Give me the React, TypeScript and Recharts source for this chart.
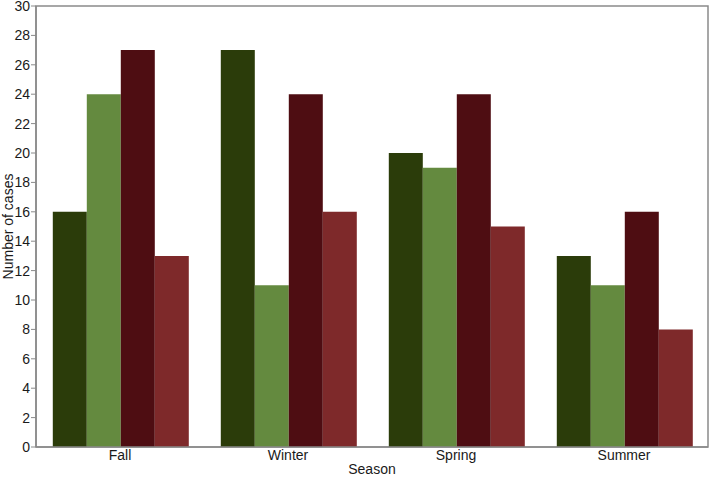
import React from "react";
import { BarChart, Bar, XAxis, YAxis, Label, ReferenceArea } from "recharts";

const seasons = ["Fall", "Winter", "Spring", "Summer"];
const seriesA = [16, 27, 20, 13];
const seriesB = [24, 11, 19, 11];
const seriesC = [27, 24, 24, 16];
const seriesD = [13, 16, 15, 8];
const yTicks = [0, 2, 4, 6, 8, 10, 12, 14, 16, 18, 20, 22, 24, 26, 28, 30];

const COLORS = ["#2b3c0a", "#648a3f", "#4e0d12", "#7e292a"];
const FONT = "'Liberation Sans', Arial, Helvetica, sans-serif";

const data = seasons.map((season, i) => ({
  season,
  a: seriesA[i],
  b: seriesB[i],
  c: seriesC[i],
  d: seriesD[i],
}));

export default function App() {
  return (
    <div style={{ position: "fixed", left: 0, top: 0, width: 709, height: 477, background: "#fff", fontFamily: FONT }}>
      <BarChart
        width={709}
        height={477}
        data={data}
        margin={{ top: 6, right: 1, left: 0, bottom: 0 }}
        barGap={0}
        barCategoryGap="10%"
      >
        <ReferenceArea y1={0} y2={30} fill="none" stroke="#8a8a8a" strokeWidth={1.5} />
        <XAxis
          dataKey="season"
          height={30}
          tickLine={false}
          axisLine={{ stroke: "#8a8a8a", strokeWidth: 1.5 }}
          tick={{ fontSize: 14, fill: "#1a1a1a", fontFamily: FONT, dy: -3 }}
          tickMargin={0}
          interval={0}
        >
          <Label
            content={({ viewBox }: any) => (
              <text
                x={viewBox.x + viewBox.width / 2}
                y={474}
                textAnchor="middle"
                fontSize={14}
                fill="#1a1a1a"
                fontFamily={FONT}
              >
                Season
              </text>
            )}
          />
        </XAxis>
        <YAxis
          width={36}
          domain={[0, 30]}
          ticks={yTicks}
          interval={0}
          tickSize={5}
          tickLine={{ stroke: "#8a8a8a" }}
          axisLine={{ stroke: "#8a8a8a", strokeWidth: 1.5 }}
          tick={{ fontSize: 14, fill: "#1a1a1a", fontFamily: FONT }}
          tickMargin={1}
        >
          <Label
            content={({ viewBox }: any) => (
              <text
                x={0}
                y={0}
                transform={`translate(13, ${viewBox.y + viewBox.height / 2}) rotate(-90)`}
                textAnchor="middle"
                fontSize={14}
                fill="#1a1a1a"
                fontFamily={FONT}
              >
                Number of cases
              </text>
            )}
          />
        </YAxis>
        <Bar dataKey="a" fill={COLORS[0]} isAnimationActive={false} />
        <Bar dataKey="b" fill={COLORS[1]} isAnimationActive={false} />
        <Bar dataKey="c" fill={COLORS[2]} isAnimationActive={false} />
        <Bar dataKey="d" fill={COLORS[3]} isAnimationActive={false} />
      </BarChart>
    </div>
  );
}
